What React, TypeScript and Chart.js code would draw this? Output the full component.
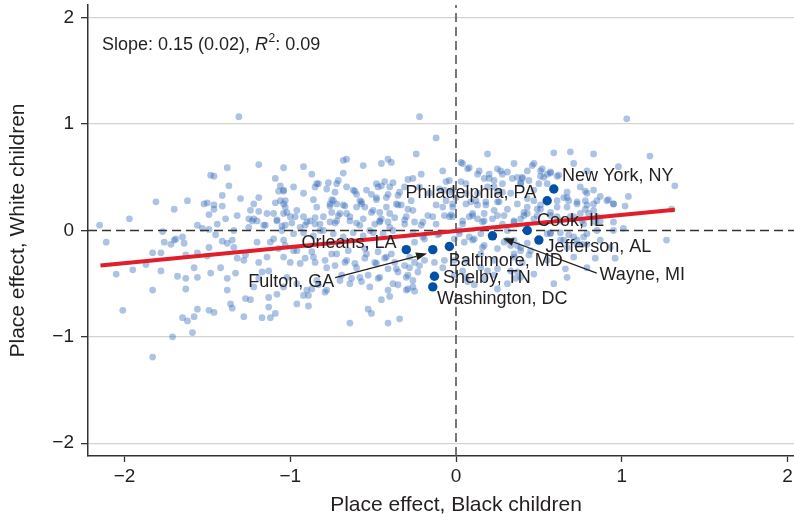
import React, { useEffect, useRef } from "react";
import { Chart, registerables } from "chart.js";

Chart.register(...registerables);

const FAMILY = "'Liberation Sans', Arial, Helvetica, sans-serif";

// Axis ranges and ticks
const X_MIN = -2.22;
const X_MAX = 2.22;
const Y_MIN = -2.12;
const Y_MAX = 2.12;
const X_TICKS = [-2, -1, 0, 1, 2];
const Y_TICKS = [-2, -1, 0, 1, 2];

// Regression summary
const SLOPE = "0.15";
const SLOPE_SE = "0.02";
const R_SQUARED = "0.09";

// Fitted line end points (x: Black children, y: White children)
const FIT_X = [-2.145, 1.32];
const FIT_Y = [-0.33, 0.195];

// County place effects: [Black children, White children]
const COUNTY_POINTS: [number, number][] = [
  [-1.31,1.07],[-2.15,0.05],[-1.97,0.11],[-1.81,0.27],[-1.70,0.20],[-1.62,0.28],[-1.56,0.05],[-1.52,0.25],[-1.50,0.26],[-1.49,0.15],
  [-1.48,0.52],[-1.46,0.51],[-1.46,0.20],[-1.44,0.06],[-1.41,0.23],[-1.39,0.11],[-1.38,0.59],[-1.37,0.42],[-1.32,0.14],[-1.24,0.19],
  [-1.25,0.11],[-1.22,0.25],[-1.19,0.18],[-1.19,0.31],[-1.19,0.62],[-1.23,0.09],[-1.20,0.09],[-1.15,0.05],[-1.10,0.16],[-1.09,0.49],
  [-1.04,0.59],[-1.06,0.42],[-1.07,0.37],[-1.04,0.37],[-1.09,0.26],[-1.06,0.28],[-1.03,0.28],[-1.03,0.22],[-1.04,0.16],[-1.02,0.17],
  [-1.08,0.10],[-1.05,0.04],[-1.03,0.05],[-0.99,0.07],[-0.97,0.13],
  [-2.11,-0.11],[-1.77,-0.01],[-1.70,-0.09],[-1.76,-0.11],[-1.65,-0.06],[-1.53,0.02],[-1.49,0.01],[-1.46,0.24],[-1.41,0.33],[-1.34,0.00],
  [-0.45,0.42],[-0.74,0.28],[-0.72,0.25],[-0.62,0.38],[-0.58,0.28],[-0.57,0.25],[-0.48,0.31],[-0.42,0.31],
  [-1.30,0.30],[-1.14,0.16],[-1.22,0.11],[-1.25,0.03],[-1.16,0.05],[-1.08,0.09],[-1.05,0.00],[-0.94,0.03],[-0.88,0.09],[-0.82,0.00],
  [-0.76,0.08],[-0.70,0.16],[-0.64,0.09],[-0.58,0.05],[-0.52,0.00],[-0.46,0.09],[-0.40,0.03],
  [-1.83,-0.21],[-1.78,-0.21],[-1.72,-0.13],[-1.69,-0.08],[-1.64,-0.12],[-1.63,-0.23],[-1.56,-0.21],[-1.50,-0.24],[-1.49,-0.16],[-1.45,-0.04],
  [-1.41,-0.10],[-1.38,-0.12],[-1.35,-0.09],[-1.34,-0.16],[-1.32,-0.26],[-1.28,-0.28],[-1.27,-0.23],[-1.20,-0.11],[-1.19,-0.30],[-1.14,-0.25],
  [-1.12,-0.11],[-1.10,-0.08],[-1.07,-0.17],[-1.03,-0.14],[-1.00,-0.30],[-0.96,-0.19],
  [-1.17,-0.39],[-1.13,-0.38],[-1.19,-0.45],[-1.22,-0.53],
  [-2.05,-0.41],[-1.95,-0.37],[-1.87,-0.32],[-1.78,-0.38],[-1.83,-0.56],[-2.01,-0.75],[-1.68,-0.43],[-1.63,-0.45],[-1.63,-0.55],[-1.58,-0.35],
  [-1.56,-0.44],[-1.48,-0.40],[-1.42,-0.35],[-1.38,-0.45],[-1.33,-0.40],[-1.38,-0.56],[-1.36,-0.69],[-1.35,-0.73],[-1.49,-0.75],[-1.46,-0.77],
  [-1.56,-0.74],[-1.65,-0.82],[-1.62,-0.85],[-1.58,-0.81],[-1.71,-1.00],[-1.59,-0.96],[-1.83,-1.19],[-1.28,-0.81],[-1.27,-0.64],[-1.24,-0.65],
  [-1.17,-0.82],[-1.13,-0.63],[-1.13,-0.72],[-1.12,-0.82],[-1.09,-0.78],[-1.08,-0.60],[-1.04,-0.53],[-0.96,-0.69],[-0.89,-0.71],[-0.89,-0.61],
  [-0.64,-0.87],[-0.53,-0.74],[-0.51,-0.78],[-0.45,-0.65],[-0.41,-0.56],[-0.40,-0.62],[-0.41,-0.87],[-0.34,-0.83],
  [-0.22,1.07],[-0.12,0.87],[-0.24,0.72],[0.19,0.72],[0.03,0.64],[0.08,0.59],[-0.92,0.60],[-0.87,0.53],[-0.85,0.41],[-0.83,0.44],
  [-0.77,0.45],[-0.86,0.29],[-0.68,0.66],[-0.66,0.67],[-0.68,0.54],[-0.71,0.47],[-0.73,0.36],[-0.75,0.29],[-0.76,0.23],[-0.56,0.61],
  [-0.45,0.63],[-0.41,0.67],[-0.39,0.64],[-0.47,0.41],[-0.43,0.46],[-0.38,0.45],[-0.41,0.34],[-0.35,0.33],[-0.29,0.48],[-0.26,0.49],
  [-0.21,0.53],[-0.31,0.41],[-0.33,0.24],[-0.29,0.20],[-0.27,0.28],[-0.61,0.37],[-0.60,0.34],[-0.57,0.27],[-0.51,0.34],[-0.48,0.29],
  [-0.46,0.17],[-0.42,0.22],[-0.37,0.12],[-0.31,0.10],[-0.06,0.46],[-0.03,0.36],[-0.02,0.25],[-0.12,0.24],[-0.07,0.14],[-0.03,0.15],
  [-0.12,0.06],[-0.92,0.13],[-0.85,0.12],[-0.80,0.13],[-0.75,0.17],[-0.71,0.14],[-0.68,0.24],[-0.64,0.13],[-0.60,0.07],[-0.73,0.07],
  [-0.67,0.23],[-0.91,0.05],[-0.85,0.06],[-0.82,0.06],
  [0.03,0.46],[0.06,0.35],[0.09,0.27],[0.13,0.24],[0.18,0.27],[0.20,0.49],[0.23,0.41],[0.25,0.58],[0.28,0.53],[0.28,0.36],
  [0.26,0.27],[0.08,0.13],[0.13,0.11],[0.17,0.16],[0.25,0.14],[0.29,0.14],
  [-0.35,0.24],[-0.31,0.06],[-0.25,0.08],[-0.21,0.05],[-0.17,0.14],[-0.55,0.22],[-0.51,0.17],[-0.45,0.11],[-0.41,0.08],[-0.49,0.06],
  [1.03,1.05],[0.59,0.73],[0.69,0.74],[1.17,0.70],[0.46,0.61],[0.51,0.56],[0.52,0.58],[0.51,0.51],[0.57,0.54],[0.61,0.51],
  [0.98,0.60],[1.32,0.42],[0.78,0.37],[0.87,0.32],[0.92,0.29],[0.95,0.25],[1.04,0.32],[1.02,0.23],[0.67,0.36],[0.65,0.31],
  [0.68,0.28],[0.73,0.25],[0.78,0.28],[0.79,0.24],[0.83,0.19],[1.30,0.20],[0.37,0.50],[0.40,0.49],[0.43,0.30],[0.47,0.28],
  [0.51,0.24],[0.61,0.22],[0.57,0.17],[0.49,0.14],[0.41,0.17],[0.39,0.11],[1.01,0.02],[0.71,0.13],[0.76,0.09],[0.84,0.08],
  [1.27,-0.09],[0.95,0.00],[0.78,0.20],[0.80,0.16],[0.85,0.13],[0.73,-0.09],[0.76,-0.13],[0.67,-0.16],
  [0.04,0.63],[0.13,0.53],[0.27,0.56],[0.35,0.63],[0.43,0.56],[0.47,0.63],[0.55,0.53],[0.71,0.63],[0.79,0.56],[0.83,0.72],
  [-1.04,0.38],[-0.98,0.41],[-0.92,0.35],[-0.84,0.44],[-0.78,0.39],[-0.72,0.44],[-0.66,0.41],[-0.54,0.38],[-0.48,0.44],[-0.40,0.41],
  [-0.34,0.36],[-0.22,0.41],[-0.16,0.35],[-0.10,0.39],[-0.02,0.38],[0.06,0.44],[0.13,0.35],[0.19,0.41],[0.25,0.36],[0.33,0.35],
  [0.39,0.44],[0.47,0.38],[0.55,0.44],[0.75,0.41],[0.83,0.38],
  [-1.04,0.25],[-1.00,0.13],[-0.96,0.19],[-0.90,0.08],[-0.84,0.22],[-0.76,0.25],[-0.72,0.09],[-0.66,0.16],[-0.60,0.22],[-0.56,0.11],
  [-0.50,0.19],[-0.46,0.08],[-0.40,0.16],[-0.36,0.25],[-0.30,0.13],[-0.26,0.19],[-0.20,0.08],[-0.14,0.13],[-0.08,0.22],[-0.02,0.13],
  [0.04,0.06],[0.10,0.16],[0.17,0.09],[0.23,0.19],[0.35,0.08],[0.43,0.16],[0.49,0.20],[0.61,0.13],[0.67,0.22],[0.75,0.16],
  [0.83,0.25],
  [-1.04,-0.09],[-0.98,-0.03],[-0.92,-0.02],[-0.86,-0.05],[-0.80,0.00],[-0.74,-0.03],[-0.68,-0.06],[-0.62,-0.02],[-0.56,-0.05],[-0.50,-0.02],
  [-0.44,-0.03],[-0.38,0.00],[-0.26,-0.02],[-0.20,-0.06],[-0.10,-0.03],[0.02,0.00],[0.08,-0.06],[0.15,-0.03],[0.31,0.00],[0.35,-0.09],
  [0.39,-0.16],[0.55,-0.03],[0.63,-0.09],[0.71,-0.06],[0.79,-0.13],[0.85,0.00],
  [-1.04,-0.25],[-0.98,-0.19],[-0.94,-0.31],[-0.86,-0.25],[-0.78,-0.35],[-0.72,-0.22],[-0.66,-0.28],[-0.60,-0.35],[-0.54,-0.22],[-0.48,-0.31],
  [-0.42,-0.25],[-0.36,-0.36],[-0.28,-0.25],[-0.22,-0.33],[-0.26,-0.47],[-0.30,-0.56],[-0.38,-0.50],[-0.46,-0.44],[-0.52,-0.53],[-0.58,-0.44],
  [-0.64,-0.50],[-0.70,-0.47],[-0.78,-0.56],[-0.84,-0.47],[-0.90,-0.56],[-0.96,-0.50],[-1.02,-0.44],
  [0.06,-0.28],[0.15,-0.22],[0.23,-0.28],[0.35,-0.25],[0.45,-0.19],[0.55,-0.28],[0.71,-0.25],[0.79,-0.35],[0.06,-0.44],[0.19,-0.38],
  [0.31,-0.50],[0.39,-0.44],[0.59,-0.50],[0.67,-0.44],
  [-0.92,-0.61],[-0.87,-0.55],[-0.83,-0.51],[-0.79,-0.58],[-0.35,-0.51],[-0.29,-0.55],[-0.25,-0.57],
  [-0.69,-0.42],[-0.63,-0.45],[-0.57,-0.48],[-0.53,-0.42],[-0.47,-0.45],[-0.41,-0.36],[-0.35,-0.39],[-0.29,-0.42],[-0.23,-0.39],
  [-0.91,-0.26],[-0.85,-0.30],[-0.79,-0.28],[-0.73,-0.33],[-0.67,-0.30],[-0.61,-0.31],[-0.55,-0.26],[-0.49,-0.30],[-0.43,-0.26],[-0.37,-0.30],
  [-0.31,-0.33],[-0.25,-0.30],[-0.19,-0.28],[-0.13,-0.30],[-0.07,-0.28],[-0.01,-0.28],
  [-0.87,-0.20],[-0.75,-0.22],[-0.65,-0.19],[-0.55,-0.17],[-0.47,-0.20],[-0.39,-0.22],[-0.25,-0.11],[-0.19,-0.08],[-0.11,-0.04],[-0.01,-0.08],
  [0.05,-0.11],[0.11,-0.08],[0.17,-0.14],[0.25,-0.17],[0.29,-0.11],
  [0.07,-0.48],[0.11,-0.51],[0.17,-0.45],[0.23,-0.42],[0.25,-0.55],
  [0.84,-0.26],[0.96,-0.26],[0.66,-0.36],[0.77,-0.06],[0.68,-0.04],[0.63,-0.02],[0.57,-0.02],[0.43,-0.12],[0.35,-0.22],[0.33,-0.14],
  [0.44,-0.23],[0.40,-0.30],[0.37,-0.39],[0.47,-0.41],[0.36,-0.45],
  [-0.28,-0.35],[-0.30,-0.44],[-0.26,-0.53],[-0.08,-0.35],[-0.01,-0.42],[0.04,-0.38],[0.15,-0.35],[0.25,-0.36],[0.33,-0.38],
  [0.07,0.58],[0.14,0.56],[0.20,0.53],[0.31,0.55],[0.40,0.50],[0.57,0.55],[0.62,0.52],[0.17,0.49],[0.23,0.47],[0.28,0.44],
  [0.34,0.49],[0.39,0.45],[0.44,0.47],[0.50,0.44],[0.53,0.50],
  [-0.06,0.28],[0.00,0.31],[0.06,0.25],[0.12,0.28],[0.18,0.24],[0.25,0.27],[0.31,0.20],[0.37,0.25],[0.43,0.22],[0.51,0.20],
  [0.61,0.28],[0.67,0.31],[0.73,0.27],[0.79,0.35],[0.85,0.28],[0.91,0.28],[0.95,0.25],
  [-0.04,0.13],[0.04,0.09],[0.10,0.14],[0.16,0.08],[0.22,0.11],[0.28,0.06],[0.35,0.09],[0.41,0.14],[0.47,0.11],[0.57,0.14],
  [0.63,0.09],[0.69,0.13],[0.77,0.06],[0.87,0.09],[0.95,0.08],
  [0.02,-0.03],[0.10,-0.09],[0.16,-0.16],[0.31,-0.09],[0.37,-0.14],[0.39,-0.19],[0.57,-0.03],[0.65,-0.09],[0.73,-0.13],[0.79,-0.03],
  [0.87,-0.09],[0.93,-0.16],
  [-0.08,0.56],[-0.04,0.47],[-0.07,0.38],[-0.02,0.22],
];

// Highlighted counties
const HIGHLIGHT_NAMES = [
  "New York, NY", "Philadelphia, PA", "Cook, IL", "Jefferson, AL", "Wayne, MI",
  "Baltimore, MD", "Fulton, GA", "Orleans, LA", "Shelby, TN", "Washington, DC",
];
const HIGHLIGHT_X = [0.59, 0.55, 0.43, 0.50, 0.22, -0.04, -0.14, -0.30, -0.13, -0.14];
const HIGHLIGHT_Y = [0.39, 0.28, 0.00, -0.09, -0.05, -0.15, -0.18, -0.18, -0.43, -0.53];

// Label anchors (left edge, vertical middle) in data units; arrows for two labels
const LABEL_AT: [number, number][] = [
  [0.640, 0.508], [-0.305, 0.355], [0.488, 0.085], [0.540, -0.153], [0.866, -0.420],
  [-0.044, -0.285], [-1.253, -0.489], [-0.932, -0.116], [-0.078, -0.444], [-0.114, -0.640],
];
const ARROWS: { from: [number, number]; to: [number, number] }[] = [
  { from: [-0.729, -0.442], to: [-0.175, -0.216] },
  { from: [0.849, -0.400], to: [0.283, -0.072] },
];

const TEXT_COLOR = "#231f20";

function fmtTick(v: number): string {
  return v < 0 ? "\u2212" + Math.abs(v) : String(v);
}

const annotationPlugin = {
  id: "annotations",
  afterDatasetsDraw(chart: any) {
    const { ctx, chartArea } = chart;
    const xs = chart.scales.x;
    const ys = chart.scales.y;
    ctx.save();
    ctx.fillStyle = TEXT_COLOR;
    ctx.strokeStyle = TEXT_COLOR;
    ARROWS.forEach((a) => {
      const x1 = xs.getPixelForValue(a.from[0]);
      const y1 = ys.getPixelForValue(a.from[1]);
      const x2 = xs.getPixelForValue(a.to[0]);
      const y2 = ys.getPixelForValue(a.to[1]);
      const ang = Math.atan2(y2 - y1, x2 - x1);
      const head = 11;
      const hw = 4;
      const bx = x2 - head * Math.cos(ang);
      const by = y2 - head * Math.sin(ang);
      ctx.lineWidth = 1.3;
      ctx.beginPath();
      ctx.moveTo(x1, y1);
      ctx.lineTo(bx, by);
      ctx.stroke();
      ctx.beginPath();
      ctx.moveTo(x2, y2);
      ctx.lineTo(bx + hw * Math.sin(ang), by - hw * Math.cos(ang));
      ctx.lineTo(bx - hw * Math.sin(ang), by + hw * Math.cos(ang));
      ctx.closePath();
      ctx.fill();
    });
    ctx.font = `18px ${FAMILY}`;
    ctx.textAlign = "left";
    ctx.textBaseline = "middle";
    HIGHLIGHT_NAMES.forEach((name, i) => {
      const [lx, ly] = LABEL_AT[i];
      ctx.fillText(name, xs.getPixelForValue(lx), ys.getPixelForValue(ly));
    });
    let x = chartArea.left + 14;
    const y = chartArea.top + 40;
    const part1 = `Slope: ${SLOPE} (${SLOPE_SE}), `;
    ctx.font = `18px ${FAMILY}`;
    ctx.fillText(part1, x, y);
    x += ctx.measureText(part1).width;
    ctx.font = `italic 18px ${FAMILY}`;
    ctx.fillText("R", x, y);
    x += ctx.measureText("R").width + 0.5;
    ctx.font = `12px ${FAMILY}`;
    ctx.fillText("2", x, y - 6);
    x += ctx.measureText("2").width;
    ctx.font = `18px ${FAMILY}`;
    ctx.fillText(`: ${R_SQUARED}`, x, y);
    ctx.restore();
  },
};

export default function App() {
  const canvasRef = useRef<HTMLCanvasElement | null>(null);

  useEffect(() => {
    document.body.style.margin = "0";
    document.body.style.overflow = "hidden";
    document.documentElement.style.overflow = "hidden";
    const canvas = canvasRef.current;
    if (!canvas) return;
    Chart.defaults.font.family = FAMILY;
    const chart = new Chart(canvas, {
      type: "scatter",
      data: {
        datasets: [
          {
            label: "Counties",
            data: COUNTY_POINTS.map(([x, y]) => ({ x, y })),
            pointRadius: 3.4,
            pointBackgroundColor: "rgba(50,105,185,0.40)",
            pointBorderWidth: 0,
            pointBorderColor: "rgba(0,0,0,0)",
            order: 5,
          } as any,
          {
            label: "zeroH",
            data: [{ x: X_MIN, y: 0 }, { x: X_MAX, y: 0 }],
            showLine: true,
            borderColor: "#333333",
            borderWidth: 1.4,
            borderDash: [9, 5],
            pointRadius: 0,
            order: 4,
          } as any,
          {
            label: "zeroV",
            data: [{ x: 0, y: Y_MIN }, { x: 0, y: Y_MAX }],
            showLine: true,
            borderColor: "#555555",
            borderWidth: 1.6,
            borderDash: [9, 5],
            pointRadius: 0,
            order: 3,
          } as any,
          {
            label: "Fit",
            data: FIT_X.map((x, i) => ({ x, y: FIT_Y[i] })),
            showLine: true,
            borderColor: "#e01f2b",
            borderWidth: 4,
            pointRadius: 0,
            order: 2,
          } as any,
          {
            label: "Highlighted",
            data: HIGHLIGHT_X.map((x, i) => ({ x, y: HIGHLIGHT_Y[i] })),
            pointRadius: 4.7,
            pointBackgroundColor: "#0050a6",
            pointBorderWidth: 0,
            pointBorderColor: "rgba(0,0,0,0)",
            order: 1,
          } as any,
        ],
      },
      options: {
        animation: false,
        responsive: false,
        devicePixelRatio: 1,
        layout: { padding: { left: 0, top: 5, right: 16, bottom: 0 } },
        plugins: { legend: { display: false }, tooltip: { enabled: false } },
        scales: {
          x: {
            type: "linear",
            min: X_MIN,
            max: X_MAX,
            afterBuildTicks: (s: any) => {
              s.ticks = X_TICKS.map((v) => ({ value: v }));
            },
            afterFit: (s: any) => {
              s.height = 64;
              s.paddingLeft = 0;
              s.paddingRight = 0;
            },
            ticks: {
              callback: (v: any) => fmtTick(Number(v)),
              font: { size: 19 },
              color: TEXT_COLOR,
              padding: 3,
              maxRotation: 0,
              autoSkip: false,
            },
            grid: {
              drawOnChartArea: false,
              drawTicks: true,
              tickLength: 6,
              tickColor: "#333333",
              tickWidth: 1.3,
            },
            border: { color: "#333333", width: 1.5 },
            title: {
              display: true,
              text: "Place effect, Black children",
              font: { size: 21 },
              color: TEXT_COLOR,
              padding: { top: 0, bottom: 2 },
            },
          },
          y: {
            type: "linear",
            min: Y_MIN,
            max: Y_MAX,
            afterBuildTicks: (s: any) => {
              s.ticks = Y_TICKS.map((v) => ({ value: v }));
            },
            afterFit: (s: any) => {
              s.width = 88;
              s.paddingTop = 0;
              s.paddingBottom = 0;
            },
            ticks: {
              callback: (v: any) => fmtTick(Number(v)),
              font: { size: 19 },
              color: TEXT_COLOR,
              padding: 7,
              autoSkip: false,
            },
            grid: {
              color: (c: any) => (c.tick && c.tick.value === 0 ? "rgba(0,0,0,0)" : "#d3d3d3"),
              lineWidth: 1.3,
              drawTicks: true,
              tickLength: 7,
              tickColor: "#333333",
              tickWidth: 1.3,
            },
            border: { color: "#333333", width: 1.5 },
            title: {
              display: true,
              text: "Place effect, White children",
              font: { size: 21 },
              color: TEXT_COLOR,
              padding: { top: 6, bottom: 0 },
            },
          },
        },
      },
      plugins: [annotationPlugin],
    });
    return () => chart.destroy();
  }, []);

  return (
    <div style={{ position: "absolute", left: 0, top: 0, width: 840, height: 520, background: "#fff" }}>
      <canvas ref={canvasRef} width={840} height={520} style={{ width: 840, height: 520, display: "block" }} />
    </div>
  );
}
